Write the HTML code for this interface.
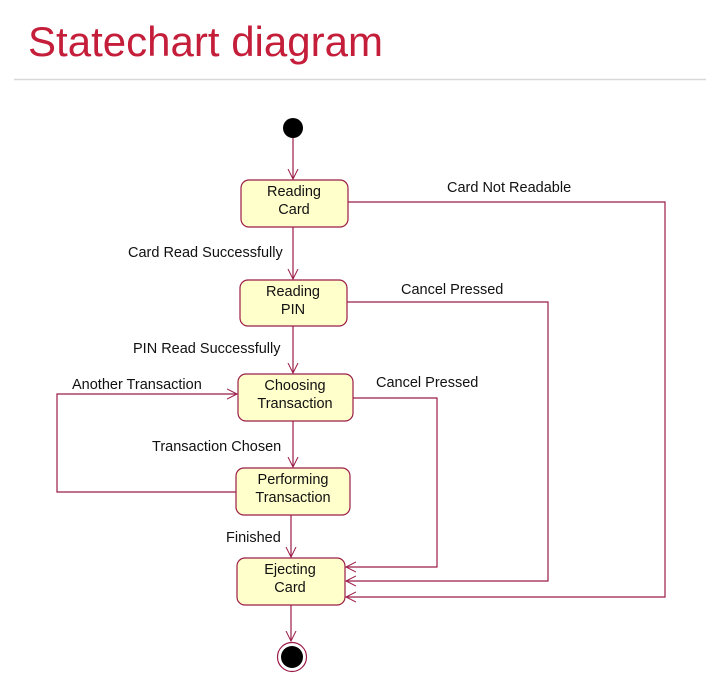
<!DOCTYPE html>
<html><head><meta charset="utf-8"><style>
body{margin:0;background:#fff;width:725px;height:692px;overflow:hidden}
svg text{font-family:"Liberation Sans",Arial,sans-serif}
</style></head><body>
<svg width="725" height="692" viewBox="0 0 725 692" xmlns="http://www.w3.org/2000/svg">
<text x="28" y="56" font-size="42" fill="#c41e3a" textLength="355" lengthAdjust="spacingAndGlyphs">Statechart diagram</text>
<line x1="14" y1="79.5" x2="706" y2="79.5" stroke="#d8d8d8" stroke-width="1.5"/>
<defs><marker id="a" markerWidth="12" markerHeight="12" refX="10" refY="6" orient="auto" markerUnits="userSpaceOnUse"><path d="M0,1 L10,6 L0,11" fill="none" stroke="#9b1c47" stroke-width="1"/></marker></defs>
<g stroke="#9b1c47" stroke-width="1.2" fill="none">
<line x1="293" y1="138" x2="293" y2="179" marker-end="url(#a)"/>
<line x1="293" y1="227" x2="293" y2="279" marker-end="url(#a)"/>
<line x1="293" y1="326" x2="293" y2="373" marker-end="url(#a)"/>
<line x1="293" y1="421" x2="293" y2="467" marker-end="url(#a)"/>
<line x1="291" y1="515" x2="291" y2="557" marker-end="url(#a)"/>
<line x1="291" y1="605" x2="291" y2="641" marker-end="url(#a)"/>
<polyline points="348,202 665,202 665,597 346,597" marker-end="url(#a)"/>
<polyline points="347,302 548,302 548,581 346,581" marker-end="url(#a)"/>
<polyline points="353,398 437,398 437,567 346,567" marker-end="url(#a)"/>
<polyline points="236,492 57,492 57,394 237,394" marker-end="url(#a)"/>
</g>
<circle cx="293" cy="128" r="10" fill="#000"/>
<circle cx="292" cy="657" r="14.5" fill="#fff" stroke="#9b1c47" stroke-width="1.2"/>
<circle cx="292" cy="657" r="11" fill="#000"/>
<g fill="#ffffcc" stroke="#9b1c47" stroke-width="1.2">
<rect x="241" y="180" width="107" height="47" rx="8"/>
<rect x="240" y="280" width="107" height="46" rx="8"/>
<rect x="238" y="374" width="115" height="47" rx="8"/>
<rect x="236" y="468" width="114" height="47" rx="8"/>
<rect x="237" y="558" width="108" height="47" rx="8"/>
</g>
<g font-size="14.5" fill="#111" text-anchor="middle">
<text x="294" y="196">Reading</text><text x="294" y="214">Card</text>
<text x="293" y="296">Reading</text><text x="293" y="314">PIN</text>
<text x="295" y="390">Choosing</text><text x="295" y="408">Transaction</text>
<text x="293" y="484">Performing</text><text x="293" y="502">Transaction</text>
<text x="290" y="574">Ejecting</text><text x="290" y="592">Card</text>
</g>
<g font-size="14.5" fill="#111">
<text x="447" y="192">Card Not Readable</text>
<text x="128" y="257">Card Read Successfully</text>
<text x="401" y="294">Cancel Pressed</text>
<text x="133" y="353">PIN Read Successfully</text>
<text x="72" y="389">Another Transaction</text>
<text x="376" y="387">Cancel Pressed</text>
<text x="152" y="451">Transaction Chosen</text>
<text x="226" y="542">Finished</text>
</g>
</svg>
</body></html>
